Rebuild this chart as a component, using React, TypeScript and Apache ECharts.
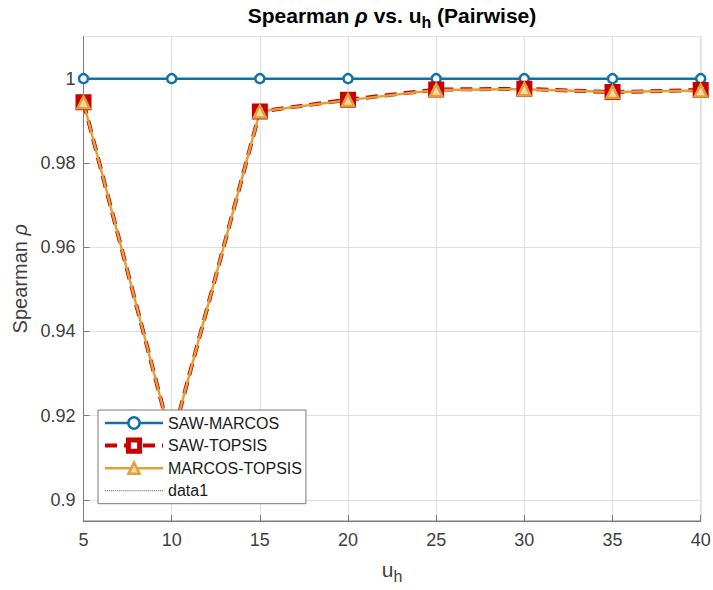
import React, { useEffect, useRef } from 'react';
import * as echarts from 'echarts';

// ---- data ----
const uh = [5, 10, 15, 20, 25, 30, 35, 40];
const sawMarcos = [1, 1, 1, 1, 1, 1, 1, 1];
const sawTopsis = [0.9944, 0.914, 0.9922, 0.995, 0.9974, 0.9976, 0.9968, 0.9973];
const marcosTopsis = [0.9944, 0.914, 0.9922, 0.9949, 0.9973, 0.9975, 0.9968, 0.9972];
const seriesNames = ['SAW-MARCOS', 'SAW-TOPSIS', 'MARCOS-TOPSIS', 'data1'];

const BLUE = '#0f72ad';
const RED = '#c80000';
const ORANGE = '#dfa13a';
const AXIS = '#7a7a7a';
const FONT = 'Liberation Sans, Arial, Helvetica, sans-serif';

// dotted line icon for the empty "data1" legend entry
const dottedIcon = (() => {
  let d = 'path://';
  for (let i = 0; i < 29; i++) d += `M${i * 2} 0h1v1h-1z `;
  return d.trim();
})();

const pairs = (ys: number[]) => uh.map((x, i) => [x, ys[i]]);

export default function App() {
  const ref = useRef<HTMLDivElement>(null);
  useEffect(() => {
    if (!ref.current) return;
    const chart = echarts.init(ref.current, undefined, { renderer: 'svg' });
    chart.setOption({
      animation: false,
      backgroundColor: '#fff',
      textStyle: { fontFamily: FONT },
      title: {
        text: '{b|Spearman }{r|ρ}{b| vs. u}{s|h}{b| (Pairwise)}',
        left: 392,
        top: 1,
        padding: 0,
        textAlign: 'center',
        textStyle: {
          rich: {
            b: { fontSize: 21, fontWeight: 'bold', color: '#000', fontFamily: FONT },
            r: { fontSize: 21, fontStyle: 'italic', color: '#000', fontFamily: FONT },
            s: { fontSize: 16, fontWeight: 'bold', color: '#000', fontFamily: FONT, padding: [13, 0, 0, 0] },
          },
        },
      },
      grid: {
        left: 83.5,
        right: 12.3,
        top: 36.5,
        bottom: 69,
        containLabel: false,
        outerBoundsMode: 'none',
        show: true,
        borderColor: AXIS,
        borderWidth: 1,
        backgroundColor: '#fff',
      },
      legend: {
        orient: 'vertical',
        left: 98,
        top: 410,
        itemWidth: 58,
        itemHeight: 14,
        itemGap: 6.5,
        padding: [5, 4, 5, 5],
        backgroundColor: '#fff',
        borderColor: AXIS,
        borderWidth: 1,
        borderRadius: 0,
        itemStyle: { borderWidth: 'inherit' },
        lineStyle: { width: 'inherit' },
        textStyle: { fontSize: 16, color: '#1a1a1a', fontFamily: FONT, lineHeight: 16 },
        data: [
          seriesNames[0],
          seriesNames[1],
          seriesNames[2],
          { name: seriesNames[3], icon: dottedIcon, itemStyle: { color: '#555', borderWidth: 0 } },
        ],
      },
      xAxis: {
        type: 'value',
        min: 5,
        max: 40,
        interval: 5,
        name: '{u|u}{s|h}',
        nameLocation: 'middle',
        nameGap: 34,
        nameTextStyle: {
          rich: {
            u: { fontSize: 21, color: '#404040', fontFamily: FONT },
            s: { fontSize: 16, color: '#404040', fontFamily: FONT, padding: [13, 0, 0, 0] },
          },
        },
        axisLine: { show: true, lineStyle: { color: AXIS, width: 1 } },
        axisTick: { show: true, inside: true, length: 6, lineStyle: { color: AXIS } },
        splitLine: { show: true, lineStyle: { color: '#e0e0e0', width: 1 } },
        axisLabel: { fontSize: 18, color: '#404040', margin: 10, fontFamily: FONT },
      },
      yAxis: {
        type: 'value',
        min: 0.895,
        max: 1.01,
        splitNumber: 5,
        name: '{t|Spearman }{r|ρ}',
        nameLocation: 'middle',
        nameGap: 51,
        nameRotate: 90,
        nameTextStyle: {
          rich: {
            t: { fontSize: 20, color: '#404040', fontFamily: FONT },
            r: { fontSize: 20, color: '#404040', fontStyle: 'italic', fontFamily: FONT },
          },
        },
        axisLine: { show: true, lineStyle: { color: AXIS, width: 1 } },
        axisTick: { show: true, inside: true, length: 6, lineStyle: { color: AXIS } },
        splitLine: { show: true, lineStyle: { color: '#e0e0e0', width: 1 } },
        axisLabel: {
          fontSize: 18,
          color: '#404040',
          margin: 8,
          fontFamily: FONT,
          showMinLabel: false,
          showMaxLabel: false,
          formatter: (v: number) => {
            if (Math.abs(v * 50 - Math.round(v * 50)) > 1e-6) return '';
            return String(+v.toFixed(2));
          },
        },
      },
      series: [
        {
          name: seriesNames[0],
          type: 'line',
          data: pairs(sawMarcos),
          symbol: 'circle',
          symbolSize: 9,
          lineStyle: { color: BLUE, width: 2.5 },
          itemStyle: { color: '#fff', borderColor: BLUE, borderWidth: 2.5 },
        },
        {
          name: seriesNames[1],
          type: 'line',
          data: pairs(sawTopsis),
          symbol: 'rect',
          symbolSize: 11,
          lineStyle: { color: RED, width: 4, type: [12, 7] },
          itemStyle: { color: '#fff', borderColor: RED, borderWidth: 5 },
        },
        {
          name: seriesNames[2],
          type: 'line',
          data: pairs(marcosTopsis),
          symbol: 'triangle',
          symbolSize: 12,
          lineStyle: { color: ORANGE, width: 2.5 },
          itemStyle: { color: '#f3d9a6', borderColor: ORANGE, borderWidth: 2.5 },
        },
        {
          name: seriesNames[3],
          type: 'line',
          data: [],
          symbol: 'none',
          lineStyle: { color: '#555', width: 1, type: 'dotted' },
          itemStyle: { color: '#555' },
        },
      ],
    });
    return () => chart.dispose();
  }, []);
  return (
    <div
      ref={ref}
      style={{ position: 'absolute', left: 0, top: 0, width: 713, height: 590 }}
    />
  );
}
